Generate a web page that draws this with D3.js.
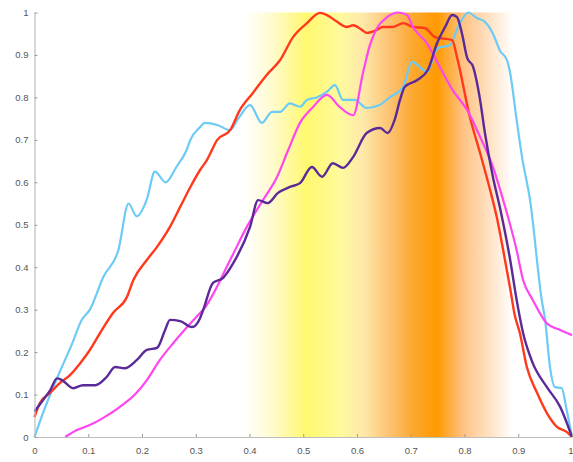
<!DOCTYPE html>
<html><head><meta charset="utf-8">
<script src="https://cdn.jsdelivr.net/npm/d3@7/dist/d3.min.js"></script>
<style>body{margin:0;background:#fff}svg{display:block}</style>
</head><body><div id="chart"></div>
<script>
const xTicks = [0,0.1,0.2,0.3,0.4,0.5,0.6,0.7,0.8,0.9,1];
const yTicks = [0,0.1,0.2,0.3,0.4,0.5,0.6,0.7,0.8,0.9,1];
const bandRange = [0.39, 0.89];
const bandStops = [0.39,0.44,0.507,0.568,0.611,0.661,0.704,0.749,0.797,0.848,0.89];

const blue = [[0,0],[0.018,0.064],[0.038,0.127],[0.07,0.22],[0.088,0.276],[0.103,0.30],[0.128,0.377],[0.156,0.44],[0.175,0.55],[0.19,0.52],[0.209,0.56],[0.224,0.625],[0.244,0.60],[0.264,0.636],[0.283,0.676],[0.29,0.70],[0.308,0.73],[0.317,0.74],[0.34,0.735],[0.364,0.723],[0.379,0.75],[0.401,0.782],[0.423,0.74],[0.442,0.766],[0.457,0.766],[0.475,0.786],[0.494,0.778],[0.507,0.794],[0.525,0.80],[0.544,0.813],[0.559,0.829],[0.574,0.794],[0.596,0.794],[0.618,0.775],[0.642,0.782],[0.661,0.80],[0.686,0.825],[0.702,0.884],[0.713,0.876],[0.73,0.86],[0.75,0.916],[0.773,0.923],[0.788,0.966],[0.807,1.0],[0.823,0.987],[0.838,0.978],[0.853,0.95],[0.866,0.91],[0.879,0.888],[0.885,0.857],[0.897,0.747],[0.907,0.66],[0.922,0.558],[0.944,0.32],[0.95,0.276],[0.959,0.165],[0.968,0.118],[0.981,0.115],[0.99,0.064],[1,0]];
const red = [[0,0.047],[0.01,0.08],[0.029,0.104],[0.047,0.127],[0.066,0.146],[0.085,0.174],[0.103,0.205],[0.122,0.245],[0.146,0.292],[0.172,0.33],[0.184,0.37],[0.209,0.417],[0.228,0.448],[0.252,0.495],[0.271,0.542],[0.29,0.589],[0.308,0.629],[0.321,0.653],[0.34,0.70],[0.364,0.723],[0.382,0.77],[0.406,0.81],[0.432,0.853],[0.457,0.888],[0.481,0.942],[0.507,0.975],[0.531,0.999],[0.544,0.994],[0.563,0.978],[0.581,0.966],[0.593,0.97],[0.609,0.959],[0.618,0.952],[0.637,0.959],[0.648,0.966],[0.667,0.966],[0.686,0.975],[0.704,0.966],[0.727,0.963],[0.745,0.942],[0.777,0.935],[0.786,0.895],[0.81,0.754],[0.829,0.669],[0.848,0.58],[0.86,0.518],[0.872,0.44],[0.885,0.35],[0.893,0.29],[0.903,0.245],[0.916,0.165],[0.935,0.104],[0.953,0.057],[0.972,0.024],[0.99,0.012],[1,0]];
const purple = [[0,0.06],[0.016,0.087],[0.029,0.11],[0.042,0.138],[0.051,0.134],[0.072,0.115],[0.09,0.122],[0.113,0.122],[0.134,0.141],[0.15,0.165],[0.168,0.162],[0.19,0.181],[0.209,0.205],[0.228,0.21],[0.243,0.252],[0.252,0.276],[0.271,0.273],[0.293,0.259],[0.308,0.28],[0.314,0.3],[0.332,0.363],[0.351,0.375],[0.37,0.41],[0.401,0.495],[0.416,0.558],[0.434,0.551],[0.453,0.575],[0.475,0.589],[0.494,0.598],[0.516,0.636],[0.535,0.613],[0.555,0.645],[0.574,0.634],[0.593,0.66],[0.618,0.716],[0.643,0.728],[0.657,0.716],[0.67,0.747],[0.68,0.794],[0.689,0.825],[0.712,0.841],[0.732,0.865],[0.749,0.928],[0.764,0.966],[0.777,0.994],[0.786,0.989],[0.795,0.952],[0.805,0.893],[0.816,0.872],[0.829,0.794],[0.838,0.716],[0.853,0.612],[0.866,0.54],[0.885,0.417],[0.897,0.323],[0.909,0.245],[0.927,0.174],[0.953,0.118],[0.978,0.071],[1,0]];
const magenta = [[0.057,0],[0.078,0.016],[0.103,0.028],[0.128,0.045],[0.159,0.071],[0.19,0.104],[0.209,0.134],[0.233,0.181],[0.258,0.221],[0.284,0.259],[0.308,0.292],[0.314,0.3],[0.364,0.417],[0.395,0.495],[0.425,0.558],[0.451,0.612],[0.472,0.676],[0.494,0.74],[0.518,0.777],[0.544,0.806],[0.568,0.777],[0.593,0.758],[0.611,0.857],[0.624,0.923],[0.637,0.963],[0.656,0.989],[0.676,1.0],[0.693,0.994],[0.704,0.966],[0.73,0.928],[0.754,0.872],[0.778,0.817],[0.805,0.77],[0.829,0.707],[0.853,0.636],[0.872,0.558],[0.897,0.44],[0.909,0.37],[0.927,0.323],[0.953,0.268],[0.978,0.252],[1,0.24]];

const W = 573, H = 462;
const x = d3.scaleLinear().domain([0,1]).range([34.5,572]);
const y = d3.scaleLinear().domain([0,1]).range([437,12.5]);
const svg = d3.select("#chart").append("svg").attr("width",W).attr("height",H);

const stopColors = ["#ffffff","#fffbd0","#fff86e","#fffa9c","#fde9aa","#fdc272","#fca830","#ff9a00","#ffc283","#ffe3c6","#ffffff"];
const defs = svg.append("defs");
const grad = defs.append("linearGradient").attr("id","band").attr("x1","0%").attr("x2","100%").attr("y1","0%").attr("y2","0%");
bandStops.forEach((s,i)=>{
  grad.append("stop").attr("offset", ((s-bandRange[0])/(bandRange[1]-bandRange[0])*100)+"%").attr("stop-color", stopColors[i]);
});
svg.append("rect").attr("x",x(bandRange[0])).attr("y",y(1)).attr("width",x(bandRange[1])-x(bandRange[0])).attr("height",y(0)-y(1)).attr("fill","url(#band)");

const line = d3.line().x(d=>x(d[0])).y(d=>y(d[1])).curve(d3.curveMonotoneX);
const series = [
  {data: blue, color:"#6ccbf5", w:2.2},
  {data: red, color:"#ff3a1c", w:2.4},
  {data: magenta, color:"#ff45f0", w:2.2},
  {data: purple, color:"#5a2a98", w:2.4}
];
series.forEach(s=>{
  svg.append("path").attr("d",line(s.data)).attr("fill","none").attr("stroke",s.color).attr("stroke-width",s.w).attr("stroke-linejoin","round");
});

const fmt = d => d===0 ? "0" : d===1 ? "1" : d3.format(".1f")(d);
const xAxis = svg.append("g").attr("transform","translate(0,437)")
  .call(d3.axisBottom(x).tickValues(xTicks).tickFormat(fmt).tickSizeInner(-3).tickSizeOuter(0).tickPadding(10));
const yAxis = svg.append("g").attr("transform","translate(34.5,0)")
  .call(d3.axisLeft(y).tickValues(yTicks).tickFormat(fmt).tickSizeInner(-3).tickSizeOuter(0).tickPadding(6));
[xAxis,yAxis].forEach(g=>{
  g.select(".domain").attr("stroke","#bdbdbd").attr("stroke-width",1.2);
  g.selectAll(".tick line").attr("stroke","#9a9a9a");
  g.selectAll(".tick text").attr("fill","#555").attr("font-family","Liberation Sans, Arial, sans-serif").attr("font-size",9.5);
});
xAxis.selectAll(".tick text").filter(d=>d===1).attr("text-anchor","end").attr("dx","1");
</script></body></html>
